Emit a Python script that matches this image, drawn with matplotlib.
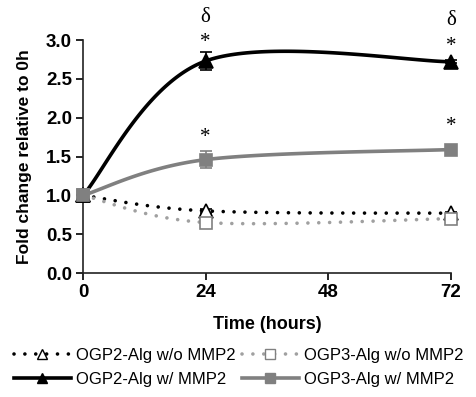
import numpy as np
import matplotlib
matplotlib.use("Agg")
import matplotlib.pyplot as plt
from matplotlib.lines import Line2D

hours = [0, 24, 72]
ogp2_wo = [1.0, 0.80, 0.77]
ogp3_wo = [1.0, 0.65, 0.70]
ogp2_w = [1.0, 2.73, 2.72]
ogp3_w = [1.0, 1.46, 1.59]
ogp2_wo_err = [0, 0.03, 0.02]
ogp3_wo_err = [0, 0.03, 0.02]
ogp2_w_err = [0, 0.12, 0.02]
ogp3_w_err = [0, 0.11, 0.02]
xticks = [0, 24, 48, 72]
yticks = [0.0, 0.5, 1.0, 1.5, 2.0, 2.5, 3.0]

plt.rcParams['font.family'] = ['Liberation Sans', 'DejaVu Sans']

# pixel scale used for excel-like smoothing
SX = 123 / 24.0
SY = 78.0
DOTS = (0, (0.01, 3.0))


def smooth(x, y, n=60):
    p = np.column_stack([np.asarray(x) * SX, np.asarray(y) * SY])
    m = len(p)
    out = []
    for i in range(m - 1):
        p0 = p[max(i - 1, 0)]
        p1 = p[i]
        p2 = p[i + 1]
        p3 = p[min(i + 2, m - 1)]
        c1 = p1 + (p2 - p0) / 6.0
        c2 = p2 - (p3 - p1) / 6.0
        t = np.linspace(0, 1, n)[:, None]
        seg = ((1 - t) ** 3) * p1 + 3 * ((1 - t) ** 2) * t * c1 + 3 * (1 - t) * t ** 2 * c2 + t ** 3 * p2
        out.append(seg)
    out = np.vstack(out)
    return out[:, 0] / SX, out[:, 1] / SY


fig = plt.figure(figsize=(4.77, 3.97), dpi=100)
ax = fig.add_axes([0.174, 0.3123, 0.7715, 0.5869])

series = [
    (ogp2_wo, ogp2_wo_err, 'black', ':', '^', 'white', 'OGP2-Alg w/o MMP2'),
    (ogp3_wo, ogp3_wo_err, '#a0a0a0', ':', 's', 'white', 'OGP3-Alg w/o MMP2'),
    (ogp2_w, ogp2_w_err, 'black', '-', '^', 'black', 'OGP2-Alg w/ MMP2'),
    (ogp3_w, ogp3_w_err, '#808080', '-', 's', '#808080', 'OGP3-Alg w/ MMP2'),
]

handles = []
for vals, err, col, ls, mk, fc, lab in series:
    sx, sy = smooth(hours, vals)
    if ls == ':':
        ax.plot(sx, sy, color=col, lw=2.6, ls=DOTS, dash_capstyle='round', zorder=2, clip_on=False)
    else:
        ax.plot(sx, sy, color=col, lw=2.6, zorder=3, clip_on=False)
    mec = 'black' if col == 'black' else '#808080'
    eb = ax.errorbar(hours, vals, yerr=err, fmt='none', ecolor=mec, elinewidth=1.2, capsize=4, capthick=1.2, zorder=4)
    for art in eb.lines[1] + eb.lines[2]:
        art.set_clip_on(False)
    ax.plot(hours, vals, ls='none', marker=mk, ms=10 if mk == '^' else 9, mfc=fc, mec=mec, mew=1.2,
            zorder=5, clip_on=False)
    if ls == ':':
        h = Line2D([], [], color=col, lw=2.6, ls=DOTS, dash_capstyle='round',
                   marker=mk, ms=7, mfc='white', mec=mec, mew=1)
    else:
        h = Line2D([], [], color=col, lw=2.6, marker=mk, ms=7, mfc=fc, mec=mec)
    handles.append(h)

# significance marks
ax.text(24, 2.84, '*', ha='center', va='bottom', fontsize=15, family='Liberation Serif')
ax.text(72, 2.80, '*', ha='center', va='bottom', fontsize=15, family='Liberation Serif')
ax.text(24, 1.62, '*', ha='center', va='bottom', fontsize=15, family='Liberation Serif')
ax.text(72, 1.76, '*', ha='center', va='bottom', fontsize=15, family='Liberation Serif')
ax.text(24, 3.17, 'δ', ha='center', va='bottom', fontsize=15, family='Liberation Serif', clip_on=False)
ax.text(72, 3.13, 'δ', ha='center', va='bottom', fontsize=15, family='Liberation Serif', clip_on=False)

ax.set_xlim(0, 72)
ax.set_ylim(0, 3.0)
ax.set_xticks(xticks)
ax.set_yticks(yticks)
ax.set_yticklabels(['%.1f' % v for v in yticks])
for lab in ax.get_xticklabels() + ax.get_yticklabels():
    lab.set_fontweight('bold')
    lab.set_fontsize(13.5)
ax.tick_params(direction='out', length=5, width=1.2, colors='black', pad=3)
for s in ['top', 'right']:
    ax.spines[s].set_visible(False)
for s in ['left', 'bottom']:
    ax.spines[s].set_linewidth(1.2)
    ax.spines[s].set_color('#222222')

ax.set_xlabel('Time (hours)', fontsize=13, fontweight='bold', labelpad=11)
ax.set_ylabel('Fold change relative to 0h', fontsize=12.5, fontweight='bold', labelpad=10)

order = [0, 2, 1, 3]
fig.legend(handles=[handles[i] for i in order], labels=[series[i][-1] for i in order],
           loc='lower center', bbox_to_anchor=(0.5, 0.0), ncol=2, frameon=False, fontsize=12,
           handlelength=3.4, handletextpad=0.3, columnspacing=0.4, labelspacing=0.55,
           borderaxespad=0.2)

fig.savefig('out.png', dpi=100)
